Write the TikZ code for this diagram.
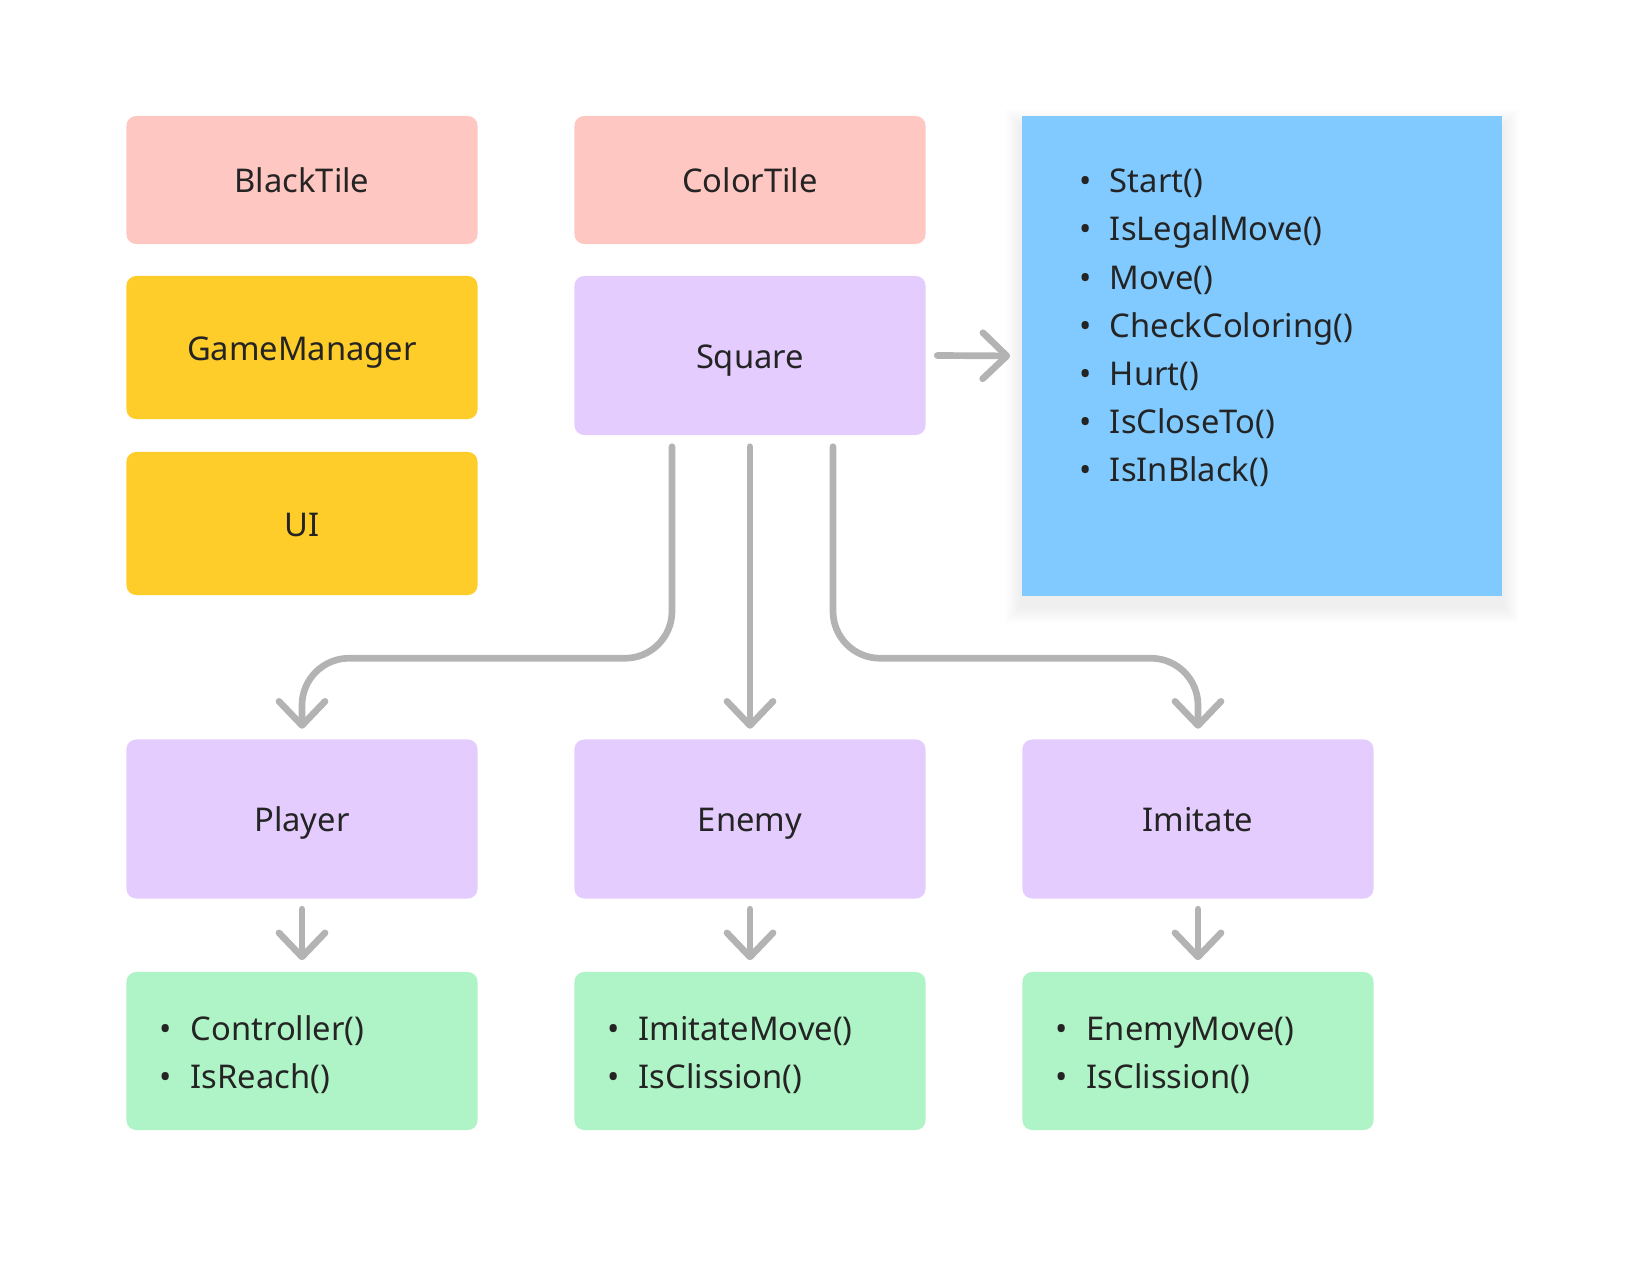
\documentclass[tikz,border=0pt]{standalone}
\usepackage{fontspec}
\setmainfont{Noto Sans}
\usepackage{tikz}
\usetikzlibrary{arrows.meta,positioning,calc,backgrounds}
\definecolor{tilepink}{RGB}{255,199,194}
\definecolor{mgryellow}{RGB}{255,205,41}
\definecolor{entpurple}{RGB}{228,204,255}
\definecolor{fnblue}{RGB}{128,202,255}
\definecolor{fngreen}{RGB}{175,244,198}
\definecolor{arrowgray}{RGB}{179,179,179}
\definecolor{inkdark}{RGB}{36,36,36}

\newcommand{\fnitem}[1]{\makebox[0.492cm][c]{\textbullet}#1}

\tikzset{
  card/.style={rounded corners=2.8pt, minimum width=3.51cm, inner sep=0pt,
    text=inkdark, font=\fontsize{9.3}{11}\selectfont,
    text height=0.714em, text depth=0pt},
  tilecard/.style={card, fill=tilepink, minimum height=1.28cm},
  mgrcard/.style={card, fill=mgryellow, minimum height=1.43cm},
  entcard/.style={card, fill=entpurple, minimum height=1.59cm},
  fncard/.style={card, fill=fngreen, minimum height=1.58cm},
  fnlist/.style={inner sep=0pt, align=left, text=inkdark,
    font=\fontsize{9.3}{13.66}\selectfont},
  flow/.style={draw=arrowgray, line width=1.9pt, line cap=round,
    -{Straight Barb[round, length=0.24cm, width=0.46cm]}},
}

\begin{document}
\begin{tikzpicture}[x=0.01cm, y=-0.01cm]
\useasboundingbox (0,0) rectangle (1626,1261);

% Top left column
\node[tilecard] (blacktile) at (302,180) {BlackTile};
\node[mgrcard] (gamemgr) at (302,347.5) {GameManager};
\node[mgrcard] (ui) at (302,523.5) {UI};

% Middle column
\node[tilecard] (colortile) at (750,180) {ColorTile};
\node[entcard] (square) at (750,355.5) {Square};

% Square functions (sticky note)
\node[fill=fnblue, minimum width=4.8cm, minimum height=4.8cm, inner sep=0pt] (sqnote) at (1262,356) {};
\begin{scope}[on background layer]
  \foreach \r in {1,...,16}
    \fill[black, opacity=0.005] ($(sqnote.north west)+(-\r,-\r+10)$) rectangle ($(sqnote.south east)+(\r,\r+10)$);
\end{scope}
\node[fnlist, anchor=base west] (sqfns) at ($(sqnote.north west)+(38.9,366)$)
  {\fnitem{Start()}\\ \fnitem{IsLegalMove()}\\ \fnitem{Move()}\\ \fnitem{CheckColoring()}\\
   \fnitem{Hurt()}\\ \fnitem{IsCloseTo()}\\ \fnitem{IsInBlack()}};

% Subclasses
\node[entcard] (player) at (302,819) {Player};
\node[entcard] (enemy) at (750,819) {Enemy};
\node[entcard] (imitate) at (1198,819) {Imitate};

% Subclass functions
\node[fncard] (playerfn) at (302,1051) {};
\node[fncard] (enemyfn) at (750,1051) {};
\node[fncard] (imitatefn) at (1198,1051) {};
\node[fnlist, anchor=base west] at ($(playerfn.north west)+(15.1,117)$) {\fnitem{Controller()}\\ \fnitem{IsReach()}};
\node[fnlist, anchor=base west] at ($(enemyfn.north west)+(15.1,117)$) {\fnitem{ImitateMove()}\\ \fnitem{IsClission()}};
\node[fnlist, anchor=base west] at ($(imitatefn.north west)+(15.1,117)$) {\fnitem{EnemyMove()}\\ \fnitem{IsClission()}};

% Arrows
\draw[flow, shorten >=0.11cm] ($(square.east)+(11,0)$) -- (sqnote.west);
\draw[flow, shorten >=0.1cm, rounded corners=0.47cm] ($(square.south)+(-78,11)$) |- ($(player.north)+(0,-80.5)$) -- (player.north);
\draw[flow, shorten >=0.1cm] ($(square.south)+(0,11)$) -- (enemy.north);
\draw[flow, shorten >=0.1cm, rounded corners=0.47cm] ($(square.south)+(83,11)$) |- ($(imitate.north)+(0,-80.5)$) -- (imitate.north);
\draw[flow, shorten >=0.11cm] ($(player.south)+(0,10)$) -- (playerfn.north);
\draw[flow, shorten >=0.11cm] ($(enemy.south)+(0,10)$) -- (enemyfn.north);
\draw[flow, shorten >=0.11cm] ($(imitate.south)+(0,10)$) -- (imitatefn.north);

\end{tikzpicture}
\end{document}
